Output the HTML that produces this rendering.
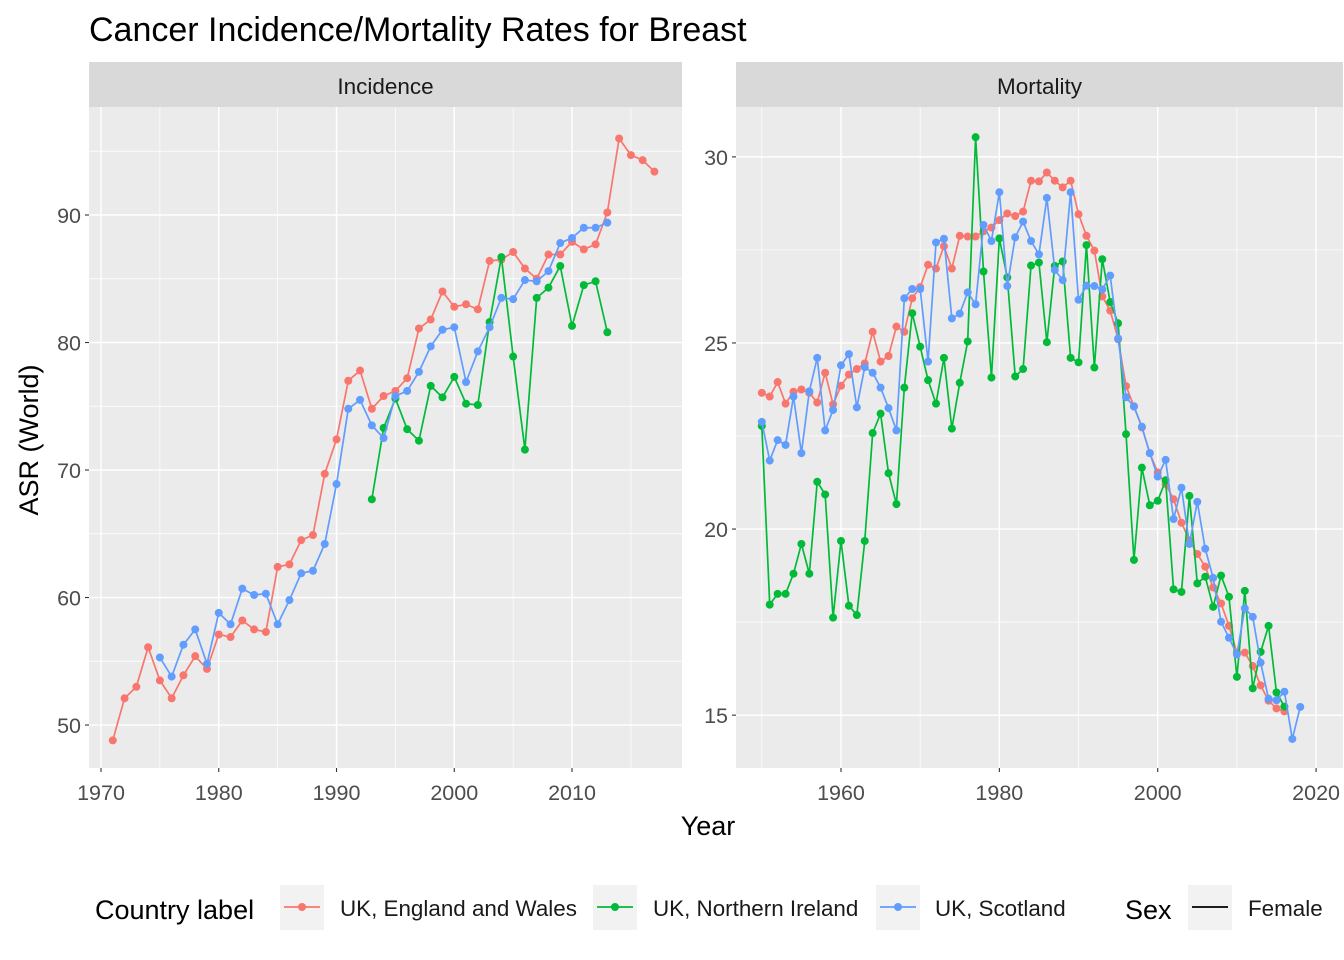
<!DOCTYPE html>
<html><head><meta charset="utf-8"><style>
body{margin:0;background:#fff;}
svg{display:block;font-family:"Liberation Sans",Arial,sans-serif;}
</style></head><body>
<svg id="chart" width="1344" height="960" viewBox="0 0 1344 960" xmlns="http://www.w3.org/2000/svg">
<text x="89" y="41" font-size="34" fill="#000">Cancer Incidence/Mortality Rates for Breast</text>
<g id="panels"></g>
<text x="708" y="835" font-size="27" text-anchor="middle" fill="#000">Year</text>
<text transform="translate(38,440) rotate(-90)" font-size="27" text-anchor="middle" fill="#000">ASR (World)</text>
<g>
<text x="95" y="919" font-size="27">Country label</text>
<rect x="280" y="885" width="44" height="45" fill="#F2F2F2"/>
<line x1="284" y1="907" x2="320" y2="907" stroke="#F8766D" stroke-width="1.7"/><circle cx="302" cy="907" r="4" fill="#F8766D"/>
<text x="340" y="916" font-size="22.4" fill="#1a1a1a">UK, England and Wales</text>
<rect x="593" y="885" width="44" height="45" fill="#F2F2F2"/>
<line x1="597" y1="907" x2="633" y2="907" stroke="#00BA38" stroke-width="1.7"/><circle cx="615" cy="907" r="4" fill="#00BA38"/>
<text x="653" y="916" font-size="22.4" fill="#1a1a1a">UK, Northern Ireland</text>
<rect x="876" y="885" width="44" height="45" fill="#F2F2F2"/>
<line x1="880" y1="907" x2="916" y2="907" stroke="#619CFF" stroke-width="1.7"/><circle cx="898" cy="907" r="4" fill="#619CFF"/>
<text x="935" y="916" font-size="22.4" fill="#1a1a1a">UK, Scotland</text>
<text x="1125" y="919" font-size="27">Sex</text>
<rect x="1188" y="885" width="44" height="45" fill="#F2F2F2"/>
<line x1="1192" y1="907" x2="1228" y2="907" stroke="#000" stroke-width="1.7"/>
<text x="1248" y="916" font-size="22.4" fill="#1a1a1a">Female</text>
</g>
</svg>
<script>
const incEWYears=[1971,2017];
const incEW=[48.8,52.1,53.0,56.1,53.5,52.1,53.9,55.4,54.4,57.1,56.9,58.2,57.5,57.3,62.4,62.6,64.5,64.9,69.7,72.4,77.0,77.8,74.8,75.8,76.2,77.2,81.1,81.8,84.0,82.8,83.0,82.6,86.4,86.5,87.1,85.8,85.0,86.9,86.9,87.9,87.3,87.7,90.2,96.0,94.7,94.3,93.4];
const incScYears=[1975,2013];
const incSc=[55.3,53.8,56.3,57.5,54.8,58.8,57.9,60.7,60.2,60.3,57.9,59.8,61.9,62.1,64.2,68.9,74.8,75.5,73.5,72.5,75.8,76.2,77.7,79.7,81.0,81.2,76.9,79.3,81.2,83.5,83.4,84.9,84.8,85.6,87.8,88.2,89.0,89.0,89.4];
const incNIYears=[1993,2013];
const incNI=[67.7,73.3,75.6,73.2,72.3,76.6,75.7,77.3,75.2,75.1,81.6,86.7,78.9,71.6,83.5,84.3,86.0,81.3,84.5,84.8,80.8];
const morEWYears=[1950,2016];
const morEW=[23.66,23.56,23.95,23.37,23.69,23.75,23.66,23.4,24.2,23.35,23.85,24.15,24.3,24.45,25.3,24.5,24.65,25.44,25.3,26.2,26.5,27.1,27.0,27.6,27.0,27.88,27.86,27.86,28.0,28.1,28.3,28.48,28.41,28.53,29.36,29.34,29.58,29.36,29.18,29.36,28.46,27.88,27.48,26.25,25.87,25.1,23.84,23.3,22.73,22.04,21.52,21.21,20.8,20.17,19.7,19.33,18.99,18.43,18.0,17.4,16.68,16.68,16.32,15.8,15.39,15.18,15.1];
const morScYears=[1950,2018];
const morSc=[22.88,21.84,22.39,22.26,23.56,22.04,23.7,24.6,22.65,23.2,24.4,24.7,23.27,24.35,24.2,23.8,23.25,22.65,26.2,26.45,26.45,24.5,27.7,27.8,25.66,25.79,26.36,26.04,28.17,27.74,29.05,26.53,27.84,28.26,27.74,27.38,28.9,26.96,26.69,29.05,26.16,26.54,26.53,26.44,26.81,25.12,23.54,23.29,22.75,22.04,21.41,21.86,20.27,21.11,19.6,20.73,19.47,18.69,17.51,17.08,16.63,17.87,17.64,16.41,15.44,15.4,15.63,14.36,15.22];
const morNIYears=[1950,2016];
const morNI=[22.77,17.97,18.26,18.26,18.8,19.6,18.8,21.27,20.93,17.62,19.68,17.94,17.69,19.68,22.58,23.1,21.5,20.67,23.8,25.8,24.9,24.0,23.37,24.6,22.7,23.93,25.04,30.53,26.92,24.07,27.81,26.76,24.1,24.3,27.08,27.16,25.02,27.07,27.19,24.6,24.48,27.63,24.34,27.25,26.1,25.53,22.55,19.17,21.65,20.64,20.76,21.31,18.38,18.31,20.89,18.54,18.72,17.91,18.75,18.18,16.03,18.34,15.72,16.7,17.4,15.61,15.23];
const incXTicks=[1970,1980,1990,2000,2010];
const incYTicks=[50,60,70,80,90];
const morXTicks=[1960,1980,2000,2020];
const morYTicks=[15,20,25,30];

const NS="http://www.w3.org/2000/svg";
const root=document.getElementById('panels');
function mk(tag,attrs,parent){const e=document.createElementNS(NS,tag);for(const k in attrs)e.setAttribute(k,attrs[k]);(parent||root).appendChild(e);return e;}

function panel(name,label,px0,px1,xd0,xd1,yd0,yd1,xt,yt,xminor,yminor,series){
  const py0=107,py1=768;
  const g=mk('g',{});
  
  
  const sx=v=>px0+(v-xd0)/(xd1-xd0)*(px1-px0);
  const sy=v=>py1-(v-yd0)/(yd1-yd0)*(py1-py0);
  const strip=mk('rect',{x:px0,y:62,width:px1-px0,height:45,fill:'#D9D9D9'},g);
  
  
  const st=mk('text',{x:(px0+px1)/2,y:94,'font-size':22.5,'text-anchor':'middle',fill:'#1a1a1a'},g);
  st.textContent=label;
  
  
  mk('rect',{x:px0,y:py0,width:px1-px0,height:py1-py0,fill:'#EBEBEB'},g);
  xminor.forEach(v=>mk('line',{x1:sx(v),x2:sx(v),y1:py0,y2:py1,stroke:'#fff','stroke-width':0.7},g));
  yminor.forEach(v=>mk('line',{x1:px0,x2:px1,y1:sy(v),y2:sy(v),stroke:'#fff','stroke-width':0.7},g));
  xt.forEach(v=>{mk('line',{x1:sx(v),x2:sx(v),y1:py0,y2:py1,stroke:'#fff','stroke-width':1.4},g);
    mk('line',{x1:sx(v),x2:sx(v),y1:py1,y2:py1+4,stroke:'#333','stroke-width':1.1},g);
    const t=mk('text',{x:sx(v),y:py1+32,'font-size':21.5,'text-anchor':'middle',fill:'#4d4d4d'},g);t.textContent=v;
    
    });
  yt.forEach(v=>{mk('line',{x1:px0,x2:px1,y1:sy(v),y2:sy(v),stroke:'#fff','stroke-width':1.4},g);
    mk('line',{x1:px0-4,x2:px0,y1:sy(v),y2:sy(v),stroke:'#333','stroke-width':1.1},g);
    const t=mk('text',{x:px0-8,y:sy(v)+8,'font-size':21.5,'text-anchor':'end',fill:'#4d4d4d'},g);t.textContent=v;
    
    });
  series.forEach(s=>{
    const pts=s.vals.map((v,i)=>[sx(s.start+i),sy(v)]);
    const pl=mk('polyline',{points:pts.map(p=>p.join(',')).join(' '),fill:'none',stroke:s.color,'stroke-width':1.7},g);
    
    
    pts.forEach(p=>{const c=mk('circle',{cx:p[0],cy:p[1],r:4,fill:s.color},g);
      
      });
  });
}
panel('incidence','Incidence',89,682,1968.98,2019.34,46.63,98.47,incXTicks,incYTicks,[1975,1985,1995,2005,2015],[55,65,75,85,95],
 [{key:'england-wales',start:incEWYears[0],vals:incEW,color:'#F8766D'},
  {key:'northern-ireland',start:incNIYears[0],vals:incNI,color:'#00BA38'},
  {key:'scotland',start:incScYears[0],vals:incSc,color:'#619CFF'}]);
panel('mortality','Mortality',736,1343,1946.74,2023.4,13.58,31.34,morXTicks,morYTicks,[1950,1970,1990,2010],[17.5,22.5,27.5],
 [{key:'england-wales',start:morEWYears[0],vals:morEW,color:'#F8766D'},
  {key:'northern-ireland',start:morNIYears[0],vals:morNI,color:'#00BA38'},
  {key:'scotland',start:morScYears[0],vals:morSc,color:'#619CFF'}]);
</script>
</body></html>
